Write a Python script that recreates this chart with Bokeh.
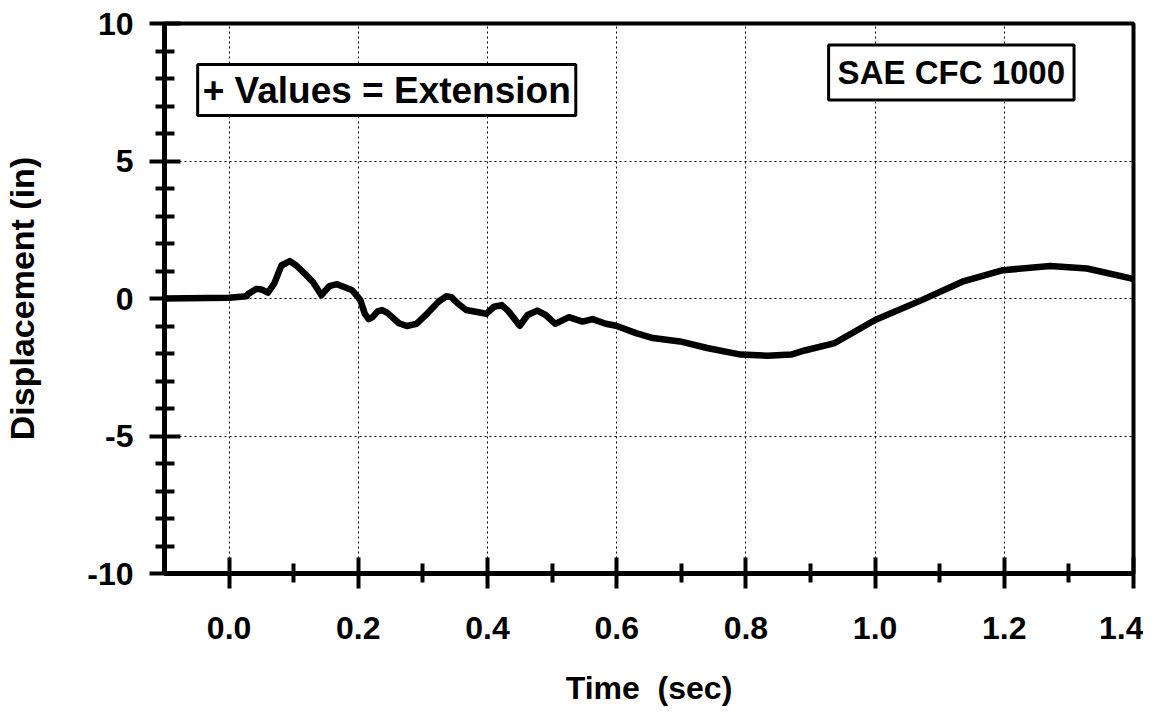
from bokeh.plotting import figure
from bokeh.models import FixedTicker, Label
from bokeh.embed import file_html
from bokeh.resources import INLINE

# ---- data ----
time_s = [-0.1, 0.0, 0.027, 0.030, 0.042, 0.050, 0.060, 0.070, 0.081, 0.094, 0.104,
          0.120, 0.130, 0.143, 0.155, 0.167, 0.180, 0.190, 0.203, 0.210, 0.216,
          0.222, 0.230, 0.237, 0.245, 0.263, 0.275, 0.290, 0.307, 0.325, 0.336,
          0.344, 0.355, 0.367, 0.388, 0.398, 0.410, 0.422, 0.432, 0.450, 0.462,
          0.477, 0.490, 0.505, 0.526, 0.547, 0.5625, 0.583, 0.599, 0.630, 0.656,
          0.698, 0.740, 0.792, 0.833, 0.870, 0.891, 0.9375, 1.0, 1.073, 1.135,
          1.198, 1.271, 1.328, 1.396, 1.4]
disp_in = [0.0, 0.03, 0.08, 0.17, 0.35, 0.33, 0.21, 0.55, 1.20, 1.36, 1.20,
           0.84, 0.59, 0.12, 0.45, 0.52, 0.40, 0.31, -0.05, -0.55, -0.75,
           -0.68, -0.47, -0.42, -0.52, -0.90, -1.00, -0.92, -0.54, -0.10, 0.08,
           0.05, -0.20, -0.42, -0.51, -0.56, -0.30, -0.24, -0.45, -0.99, -0.60,
           -0.44, -0.60, -0.92, -0.68, -0.84, -0.75, -0.92, -0.99, -1.26, -1.44,
           -1.56, -1.80, -2.04, -2.08, -2.04, -1.89, -1.62, -0.78, -0.05, 0.61,
           1.03, 1.18, 1.09, 0.73, 0.72]

x_major = [0.0, 0.2, 0.4, 0.6, 0.8, 1.0, 1.2, 1.4]
x_minor = [0.1, 0.3, 0.5, 0.7, 0.9, 1.1, 1.3]
x_labels = ["0.0", "0.2", "0.4", "0.6", "0.8", "1.0", "1.2", "1.4"]
x_grid = [0.0, 0.2, 0.4, 0.6, 0.8, 1.0, 1.2]
y_major = [-10, -5, 0, 5, 10]
y_minor = [-9, -8, -7, -6, -4, -3, -2, -1, 1, 2, 3, 4, 6, 7, 8, 9]
y_labels = ["-10", "-5", "0", "5", "10"]
y_grid = [-5, 0, 5]

FONT = "Liberation Sans"

p = figure(width=1143, height=709, x_range=(-0.1, 1.4), y_range=(-10, 10),
           output_backend="svg", toolbar_location=None,
           min_border_left=158, min_border_right=10, min_border_top=23,
           min_border_bottom=136)
p.background_fill_color = "white"
p.border_fill_color = "white"
p.outline_line_color = "black"
p.outline_line_width = 4

# grids
p.xgrid.ticker = FixedTicker(ticks=x_grid)
p.ygrid.ticker = FixedTicker(ticks=y_grid)
for g in (p.xgrid, p.ygrid):
    g.grid_line_color = "black"
    g.grid_line_width = 1
    g.grid_line_dash = "2 3"

# x axis
xa = p.xaxis[0]
xa.ticker = FixedTicker(ticks=x_major, minor_ticks=x_minor)
xa.major_label_overrides = {t: s for t, s in zip(x_major, x_labels)}
xa.axis_label = "Time \u00a0(sec)"
# y axis
ya = p.yaxis[0]
ya.ticker = FixedTicker(ticks=y_major, minor_ticks=y_minor)
ya.major_label_overrides = {t: s for t, s in zip(y_major, y_labels)}
ya.axis_label = "Displacement (in)"

for ax in (xa, ya):
    ax.axis_line_color = "black"
    ax.axis_line_width = 5
    ax.major_tick_line_color = "black"
    ax.major_tick_line_width = 4
    ax.minor_tick_line_color = "black"
    ax.minor_tick_line_width = 4
    ax.major_tick_in = 16
    ax.major_tick_out = 15
    ax.minor_tick_in = 10
    ax.minor_tick_out = 9
    ax.major_label_text_font = FONT
    ax.major_label_text_font_style = "bold"
    ax.major_label_text_font_size = "32px"
    ax.major_label_text_color = "black"
    ax.axis_label_text_font = FONT
    ax.axis_label_text_font_style = "bold"
    ax.axis_label_text_color = "black"

xa.major_label_standoff = 28
xa.axis_label_text_font_size = "32px"
xa.axis_label_standoff = 28
ya.major_label_standoff = 16
ya.axis_label_text_font_size = "34px"
ya.axis_label_standoff = 43

p.line(time_s, disp_in, line_color="black", line_width=6.5,
       line_join="round", line_cap="round")

common = dict(text_font=FONT, text_font_style="bold", text_color="black",
              text_align="center", text_baseline="middle",
              background_fill_color="white", border_line_color="black",
              border_line_width=3)
p.add_layout(Label(x=0.244, y=7.58, text="+ Values = Extension",
                   text_font_size="37px", padding=5, **common))
p.add_layout(Label(x=1.118, y=8.22, text="SAE CFC 1000",
                   text_font_size="33px", padding=9, **common))

open("out.html", "w").write(file_html(p, INLINE))
